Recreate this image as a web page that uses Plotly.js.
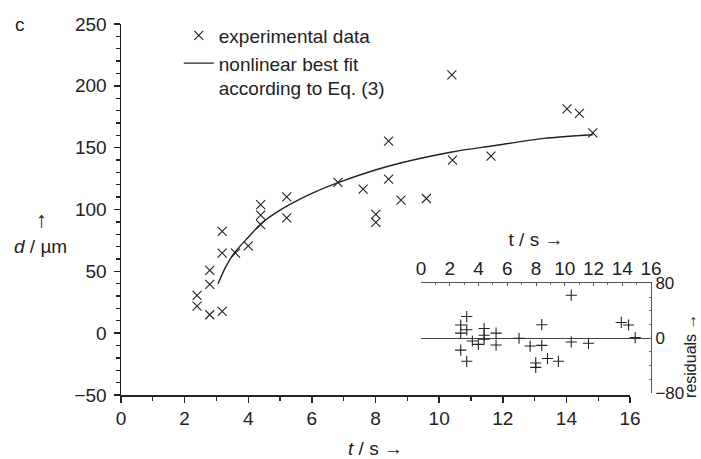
<!DOCTYPE html>
<html>
<head>
<meta charset="utf-8">
<script src="https://cdn.plot.ly/plotly-3.0.1.min.js"></script>
<style>html,body{margin:0;padding:0;background:#fff;}#chart{width:701px;height:459px;}</style>
</head>
<body>
<div id="chart"></div>
<script>
// experimental data
var tExp = [2.39, 2.39, 2.79, 2.79, 2.79, 3.18, 3.18, 3.18, 3.6, 4.0, 4.39, 4.39, 4.39, 5.21, 5.21, 6.82, 7.61, 8.01, 8.01, 8.41, 8.41, 8.8, 9.6, 10.4, 10.42, 11.63, 14.02, 14.41, 14.83];
var dExp = [30.6, 21.9, 50.8, 39.5, 14.9, 82.4, 64.8, 17.6, 64.8, 70.5, 104, 95.4, 87.8, 110.2, 93.2, 121.9, 116.4, 96, 89.5, 155.3, 124.6, 107.5, 108.9, 208.8, 140, 143.2, 181.3, 177.8, 162];
// nonlinear best fit
var tFit = [3.05, 3.3, 3.55, 4.0, 4.4, 5.0, 6.0, 6.8, 8.4, 10.4, 11.7, 13.3, 14.83];
var dFit = [40, 54, 64.5, 77.5, 88.5, 99.5, 113, 121.5, 135, 146.5, 151.5, 157.5, 160.5];
// residuals (inset)
var tRes = [2.76, 2.76, 2.76, 3.18, 3.18, 3.18, 3.57, 3.99, 4.39, 4.39, 4.39, 5.22, 5.22, 6.82, 7.59, 7.98, 7.98, 8.4, 8.4, 8.8, 9.56, 10.45, 10.45, 11.65, 13.93, 14.44, 14.9];
var rRes = [19.3, 7.4, -17.3, 31.6, 12.3, -33.6, -4, -8.9, 14.2, 4.4, -1.5, 7.4, -9.9, 0, -11.4, -36, -42.5, 19.7, -10.4, -29.6, -33.6, 62.7, -5.5, -7.4, 23, 19.3, 1];

var FONT = 'Liberation Sans, Arial, sans-serif';
var INK = '#222';
var FS = 19;

var traces = [
  {x: tExp, y: dExp, type: 'scatter', mode: 'markers', name: 'experimental data',
   marker: {symbol: 'x-thin', size: 9, line: {width: 1.1, color: INK}, color: INK}},
  {x: tFit, y: dFit, type: 'scatter', mode: 'lines', name: 'nonlinear best fit<br>according to Eq. (3)',
   line: {color: INK, width: 1.4, shape: 'spline', smoothing: 0.8}},
  {x: tRes, y: rRes, xaxis: 'x2', yaxis: 'y2', type: 'scatter', mode: 'markers', showlegend: false,
   marker: {symbol: 'cross-thin', size: 8, line: {width: 1.1, color: INK}, color: INK}}
];

var layout = {
  width: 701, height: 459,
  margin: {l: 121, r: 40, t: 24, b: 64},
  paper_bgcolor: '#fff', plot_bgcolor: 'rgba(0,0,0,0)',
  font: {family: FONT, size: FS, color: INK},
  showlegend: true,
  legend: {x: 0.107, y: 1.02, xanchor: 'left', yanchor: 'top', valign: 'top',
           bgcolor: 'rgba(0,0,0,0)', font: {family: FONT, size: FS, color: INK}, tracegroupgap: 0},
  xaxis: {domain: [0, 0.9426], range: [0, 16], showgrid: false, zeroline: false,
          showline: true, linecolor: INK, linewidth: 1.5, ticks: 'outside', ticklen: 6, tickwidth: 1.5, tickcolor: INK,
          dtick: 2, tick0: 0, minor: {dtick: 1, ticklen: 4, tickwidth: 1.3, tickcolor: INK, ticks: 'outside'},
          title: {text: '<i>t</i> / s →', standoff: 18, font: {size: FS}}},
  yaxis: {domain: [0, 1], range: [-50, 250], showgrid: false, zeroline: false,
          showline: true, linecolor: INK, linewidth: 1.5, ticks: 'outside', ticklen: 6, tickwidth: 1.5, tickcolor: INK,
          dtick: 50, tick0: 0, ticklabelstandoff: 3,
          minor: {dtick: 10, ticklen: 4, tickwidth: 1.3, tickcolor: INK, ticks: 'outside'}},
  xaxis2: {domain: [0.5556, 0.9815], range: [0, 16], anchor: 'y2', side: 'top', showgrid: false, zeroline: false,
           showline: true, linecolor: '#555', linewidth: 1, ticks: 'inside', ticklen: 3, tickcolor: '#555',
           dtick: 2, tick0: 0, minor: {dtick: 1, ticklen: 2, tickcolor: '#777', ticks: 'inside'},
           title: {text: 't / s →', standoff: 6, font: {size: FS}}},
  yaxis2: {domain: [0.005, 0.301], range: [-80, 80], anchor: 'x2', side: 'right', showgrid: false,
           zeroline: true, zerolinecolor: '#444', zerolinewidth: 1,
           showline: true, linecolor: '#555', linewidth: 1, ticks: 'inside', ticklen: 3, tickcolor: '#555',
           dtick: 80, tick0: 0, ticklabelstandoff: 0, tickfont: {size: 17},
           minor: {dtick: 20, ticklen: 2, tickcolor: '#777', ticks: 'inside'}},
  annotations: [
    {text: 'c', xref: 'paper', yref: 'paper', x: -0.2, y: 0.998, xanchor: 'left', yanchor: 'middle', showarrow: false, font: {size: FS}},
    {text: '↑', xref: 'paper', yref: 'paper', x: -0.147, y: 0.474, xanchor: 'center', yanchor: 'middle', showarrow: false, font: {size: 22}},
    {text: '<i>d</i> / µm', xref: 'paper', yref: 'paper', x: -0.202, y: 0.4, xanchor: 'left', yanchor: 'middle', showarrow: false, font: {size: FS}},
    {text: 'residuals →', xref: 'paper', yref: 'paper', x: 1.0535, y: 0.105, xanchor: 'center', yanchor: 'middle', textangle: -90, showarrow: false, font: {size: 16, color: INK}}
  ]
};

Plotly.newPlot('chart', traces, layout, {displayModeBar: false, staticPlot: true});
</script>
</body>
</html>
